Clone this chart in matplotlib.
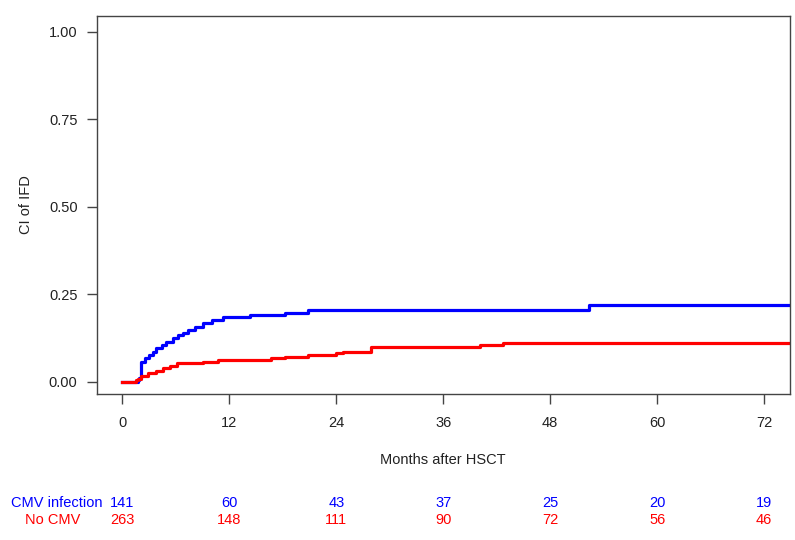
import matplotlib
matplotlib.use("Agg")
import matplotlib.pyplot as plt

plt.rcParams['font.family'] = ['Liberation Sans', 'DejaVu Sans']

# cumulative incidence step curves (time in months, value)
blue_t = [0, 1.7, 1.9, 2.1, 2.5, 3.0, 3.4, 3.8, 4.4, 4.9, 5.7, 6.2, 6.8, 7.4,
          8.1, 9.0, 10.0, 11.3, 14.3, 18.2, 20.8, 52.4, 75]
blue_v = [0, 0.005, 0.012, 0.055, 0.067, 0.076, 0.086, 0.095, 0.105, 0.114,
          0.124, 0.133, 0.138, 0.148, 0.157, 0.167, 0.175, 0.186, 0.19, 0.197,
          0.206, 0.22, 0.22]
red_t = [0, 1.5, 1.8, 2.1, 2.9, 3.8, 4.6, 5.3, 6.1, 9.0, 10.7, 16.7, 18.2,
         20.8, 24.0, 24.7, 27.9, 40.1, 42.7, 75]
red_v = [0, 0.004, 0.008, 0.015, 0.026, 0.031, 0.038, 0.045, 0.054, 0.057,
         0.062, 0.067, 0.072, 0.076, 0.081, 0.086, 0.10, 0.105, 0.11, 0.11]

xticks = [0, 12, 24, 36, 48, 60, 72]
yticks = [0.0, 0.25, 0.5, 0.75, 1.0]
group_names = ['CMV infection', 'No CMV']
risk_cmv = [141, 60, 43, 37, 25, 20, 19]
risk_nocmv = [263, 148, 111, 90, 72, 56, 46]
BLUE = '#0000ff'
RED = '#ff0000'

fig = plt.figure(figsize=(7.95, 5.4), dpi=100)
ax = fig.add_axes([0.122, 0.2704, 0.8717, 0.70])

ax.plot(blue_t, blue_v, drawstyle='steps-post', color=BLUE, lw=2.3)
ax.plot(red_t, red_v, drawstyle='steps-post', color=RED, lw=2.3)

ax.set_xlim(-2.85, 74.9)
ax.set_ylim(-0.035, 1.045)
ax.set_xticks(xticks)
ax.set_xticklabels([str(t) for t in xticks])
ax.set_yticks(yticks)
ax.set_yticklabels(['%.2f' % v for v in yticks])
for s in ax.spines.values():
    s.set_color('#444444')
    s.set_linewidth(1.0)
ax.tick_params(axis='both', direction='out', length=7, width=1.0,
               color='#444444', labelsize=10.5, labelcolor='#222222')
ax.tick_params(axis='x', pad=9)
ax.tick_params(axis='y', pad=7)

ax.set_ylabel('CI of IFD', fontsize=10.5, color='#222222')
ax.yaxis.set_label_coords(-0.092, 0.5)

fig.text(0.557, 0.148, 'Months after HSCT', ha='center', va='center',
         fontsize=10.5, color='#222222')

# number at risk table
tr = matplotlib.transforms.blended_transform_factory(ax.transData, fig.transFigure)
y1, y2 = 1 - 503 / 540, 1 - 520 / 540
fig.text(57 / 795, y1, group_names[0], ha='center', va='center', fontsize=10.5, color=BLUE)
fig.text(53 / 795, y2, group_names[1], ha='center', va='center', fontsize=10.5, color=RED)
for t, a, b in zip(xticks, risk_cmv, risk_nocmv):
    ax.text(t, y1, str(a), transform=tr, ha='center', va='center', fontsize=10.5, color=BLUE)
    ax.text(t, y2, str(b), transform=tr, ha='center', va='center', fontsize=10.5, color=RED)

fig.savefig('out.png', dpi=100)
